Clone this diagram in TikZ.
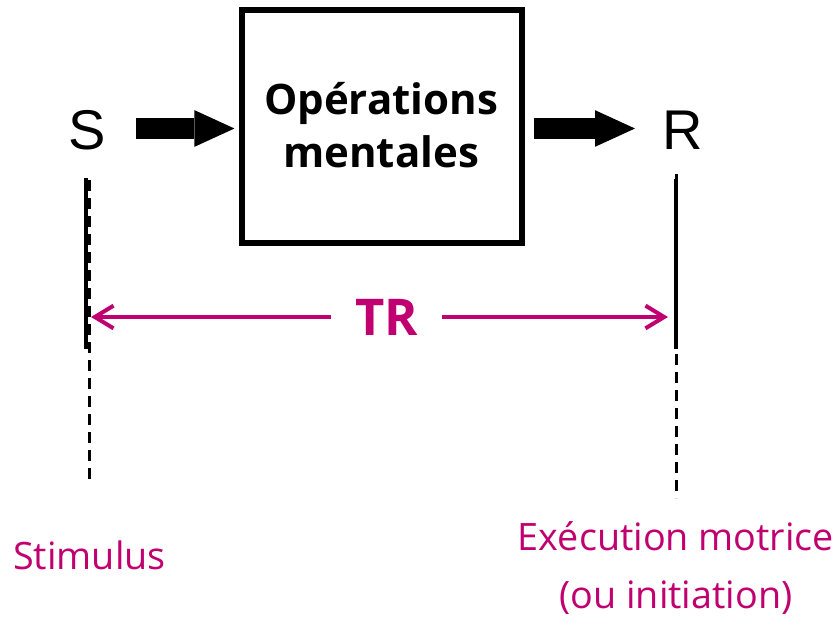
\documentclass[tikz,border=0pt]{standalone}
\usepackage{fontspec}
\setmainfont{Open Sans}
\newfontfamily\arialfont{Liberation Sans}
\usetikzlibrary{arrows.meta}
\definecolor{trmag}{RGB}{192,0,112}
\begin{document}
\begin{tikzpicture}[x=0.75pt,y=-0.75pt,
  letter/.style={inner sep=0pt,font=\arialfont\fontsize{42}{42}\selectfont},
  opbox/.style={draw,line width=4.5pt,minimum width=210pt,minimum height=174.75pt,inner sep=0pt},
  boxtext/.style={anchor=base,inner sep=0pt,font=\bfseries\fontsize{31.5}{36}\selectfont},
  blockarrow/.style={line width=16pt,-{Triangle[length=30pt,width=27.5pt,line width=0pt]}},
  tick/.style={line width=3pt},
  dashtick/.style={line width=2.25pt,dash pattern=on 8.25pt off 5.25pt},
  trarrow/.style={trmag,line width=3pt,-{Straight Barb[length=14pt,width=17pt]}},
  trlabel/.style={anchor=base,text=trmag,inner xsep=18pt,inner ysep=0pt,outer sep=0pt,font=\bfseries\fontsize{38}{38}\selectfont},
  caption/.style={anchor=base,text=trmag,inner sep=0pt,font=\fontsize{28.3}{28.3}\selectfont}]
\useasboundingbox (0,0) rectangle (836,617);

% stimulus, processing box, response
\node[letter] (S) at (87,130) {S};
\node[letter] (R) at (683,130) {R};
\node[opbox] (box) at (382,126.5) {};
\node[boxtext] (t1) at (381,115) {Opérations};
\node[boxtext] (t2) at (381,167) {mentales};

% thick flow arrows
\coordinate (aIn) at (136,128.5);
\coordinate (aOut) at (635,128.5);
\draw[blockarrow,shorten >=3.4pt] (aIn) -- (box.west |- aIn);
\draw[blockarrow,shorten <=6.4pt] (box.east |- aOut) -- (aOut);

% time markers
\coordinate (sTop) at (86,178);
\coordinate (sBot) at (86,349);
\coordinate (sDashTop) at (89.5,180);
\coordinate (sDashBot) at (89.5,485);
\coordinate (rTop) at (676,179);
\coordinate (rBot) at (676,349);
\coordinate (rDashTop) at (676,174);
\coordinate (rDashBot) at (676,498);
\draw[dashtick] (sDashTop) -- (sDashBot);
\draw[tick] (sTop) -- (sBot);
\draw[dashtick] (rDashTop) -- (rDashBot);
\draw[tick] (rTop) -- (rBot);

% reaction time span
\node[trlabel] (TR) at (386.5,335) {TR};
\coordinate (sL) at (91,317);
\coordinate (rL) at (668,317);
\draw[trarrow] (sL -| TR.west) -- (sL);
\draw[trarrow] (rL -| TR.east) -- (rL);

% captions
\node[caption] (stim) at (89.5,569) {Stimulus};
\node[caption] (exec) at (676,550) {Exécution motrice};
\node[caption] (init) at (676,608) {(ou initiation)};
\end{tikzpicture}
\end{document}
